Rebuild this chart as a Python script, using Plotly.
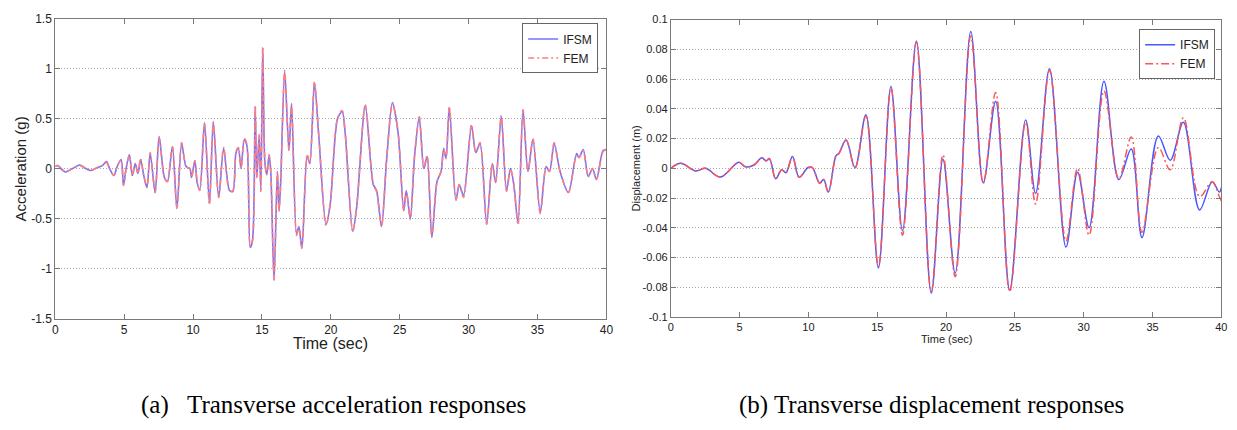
import plotly.graph_objects as go

# ---------------- data: acceleration (left) ----------------
acc_time = [0, 0.17, 0.72, 1.25, 1.78, 2.21, 2.57, 3.05, 3.41, 3.72, 3.94, 4.25, 4.49, 4.78, 4.95,
            5.14, 5.38, 5.59, 5.81, 6.0, 6.19, 6.41, 6.65, 6.89, 7.25, 7.54, 7.92, 8.14, 8.5, 8.83,
            9.17, 9.5, 9.77, 9.89, 10.13, 10.3, 10.49, 10.83, 11.19, 11.47, 11.86, 12.22, 12.65,
            12.89, 13.12, 13.29, 13.48, 13.72, 13.91, 14.15, 14.32, 14.51, 14.63, 14.8, 14.92,
            15.06, 15.21, 15.35, 15.52, 15.64, 15.88, 16.12, 16.24, 16.36, 16.65, 16.96, 17.15,
            17.51, 17.68, 17.9, 18.28, 18.47, 18.81, 19.12, 19.65, 19.96, 20.49, 20.82, 21.04,
            21.59, 21.88, 22.5, 23.08, 23.32, 23.68, 24.04, 24.47, 24.88, 25.29, 25.48, 25.77,
            26.08, 26.42, 26.75, 26.99, 27.33, 27.71, 28.0, 28.19, 28.36, 28.6, 29.08, 29.32,
            29.63, 30.21, 30.52, 30.83, 31.31, 31.72, 31.96, 32.37, 32.75, 33.04, 33.28, 33.59,
            33.95, 34.31, 34.67, 35.2, 35.63, 35.87, 36.21, 36.64, 37.24, 37.84, 38.01, 38.32,
            38.68, 38.99, 39.28, 39.76, 40.0]
acc_ifsm = [0.02, 0.03, -0.035, 0.0, 0.035, 0.0, -0.02, 0.01, 0.03, 0.07, 0.0, -0.07, 0.02, 0.09, -0.17,
            0.0, 0.14, -0.07, 0.05, -0.05, 0.09, -0.06, -0.19, 0.15, -0.24, 0.32, -0.09, -0.13, 0.22, -0.40,
            0.25, 0.02, 0.0, -0.09, 0.08, -0.14, -0.21, 0.46, -0.35, 0.47, -0.29, 0.20, -0.22,
            -0.23, 0.16, 0.20, 0.0, 0.29, 0.23, -0.79, -0.71, 0.62, -0.09, 0.33, -0.22,
            1.21, 0.07, -0.06, 0.13, -0.03, -1.12, -0.03, -0.42, -0.14, 0.97, 0.18, 0.65,
            -0.66, -0.58, -0.80, 0.13, 0.05, 0.86, 0.34, -0.56, -0.35, 0.50, 0.57, 0.36,
            -0.63, -0.38, 0.63, -0.16, -0.22, -0.58, 0.07, 0.66, 0.36, -0.42, -0.22, -0.50,
            0.13, 0.51, 0.0, 0.12, -0.69, -0.13, -0.03, 0.20, 0.10, 0.61, -0.32, -0.16,
            -0.27, 0.43, 0.16, 0.25, -0.55, 0.05, -0.14, 0.52, -0.22, 0.0, -0.16, -0.55,
            0.58, -0.03, 0.29, -0.44, 0.02, -0.03, 0.25, -0.03, -0.24, 0.15, 0.11, 0.19,
            -0.08, 0.0, -0.11, 0.18, 0.19]
acc_fem = [0.02, 0.03, -0.03, 0.0, 0.03, 0.0, -0.02, 0.01, 0.03, 0.06, 0.0, -0.07, 0.02, 0.08, -0.17,
           0.0, 0.13, -0.07, 0.05, -0.05, 0.10, -0.06, -0.19, 0.16, -0.24, 0.31, -0.09, -0.13, 0.23, -0.40,
           0.26, 0.02, 0.0, -0.09, 0.08, -0.14, -0.22, 0.45, -0.36, 0.46, -0.29, 0.21, -0.23,
           -0.22, 0.17, 0.21, 0.0, 0.30, 0.24, -0.78, -0.72, 0.63, -0.09, 0.34, -0.23,
           1.22, 0.07, -0.06, 0.14, -0.03, -1.11, -0.03, -0.43, -0.14, 0.98, 0.18, 0.64,
           -0.67, -0.58, -0.79, 0.14, 0.05, 0.87, 0.34, -0.57, -0.35, 0.51, 0.58, 0.36,
           -0.63, -0.38, 0.64, -0.16, -0.23, -0.58, 0.08, 0.65, 0.37, -0.42, -0.23, -0.51,
           0.13, 0.52, 0.0, 0.13, -0.68, -0.13, -0.03, 0.20, 0.10, 0.62, -0.31, -0.16,
           -0.29, 0.44, 0.16, 0.26, -0.56, 0.05, -0.14, 0.53, -0.23, 0.0, -0.16, -0.56,
           0.59, -0.03, 0.30, -0.45, 0.02, -0.03, 0.26, -0.03, -0.24, 0.14, 0.11, 0.18,
           -0.08, 0.0, -0.11, 0.17, 0.19]

# ---------------- data: displacement (right) ----------------
disp_time = [0, 0.72, 1.8, 2.52, 3.6, 4.93, 5.41, 6.01, 6.61, 6.92, 7.16, 7.62, 8.05, 8.36, 8.84,
             9.32, 9.97, 10.28, 10.81, 11.1, 11.44, 12.01, 12.2, 12.73, 13.38, 14.17, 15.08,
             15.99, 16.83, 17.84, 18.92, 19.77, 20.66, 21.79, 22.7, 23.6, 24.62, 25.78, 26.5,
             27.51, 28.71, 29.55, 30.39, 31.47, 32.55, 33.45, 34.23, 35.42, 36.28, 37.24, 38.42,
             39.33, 39.85, 40.0]
disp_ifsm = [0.0, 0.0033, -0.0018, 0.0, -0.0059, 0.004, 0.001, 0.002, 0.007, 0.005, 0.0065, -0.007,
             -0.001, -0.003, 0.008, -0.006, 0.0005, 0.0005, -0.010, -0.0076, -0.016, 0.0087, 0.0098,
             0.019, 0.0004, 0.036, -0.067, 0.055, -0.042, 0.0856, -0.084, 0.0060, -0.0705, 0.092,
             -0.0098, 0.045, -0.082, 0.0325, -0.017, 0.067, -0.053, -0.0026, -0.040, 0.0585,
             -0.0076, 0.013, -0.0466, 0.0217, 0.0054, 0.031, -0.028, -0.009, -0.016, -0.013]
disp_fem = [0.0, 0.0033, -0.0018, 0.0, -0.0059, 0.004, 0.001, 0.002, 0.007, 0.005, 0.0065, -0.007,
            -0.001, -0.003, 0.008, -0.006, 0.0005, 0.0005, -0.010, -0.0076, -0.016, 0.0087, 0.0098,
            0.019, 0.0, 0.035, -0.066, 0.054, -0.045, 0.085, -0.083, 0.009, -0.073, 0.089,
            -0.010, 0.051, -0.083, 0.031, -0.024, 0.066, -0.049, 0.0, -0.045, 0.052,
            -0.007, 0.021, -0.043, 0.014, -0.001, 0.034, -0.019, -0.009, -0.019, -0.022]

# ---------------- ticks / labels ----------------
x_ticks = [0, 5, 10, 15, 20, 25, 30, 35, 40]
acc_ticks = [-1.5, -1, -0.5, 0, 0.5, 1, 1.5]
acc_tick_text = ["-1.5", "-1", "-0.5", "0", "0.5", "1", "1.5"]
disp_ticks = [-0.1, -0.08, -0.06, -0.04, -0.02, 0, 0.02, 0.04, 0.06, 0.08, 0.1]
disp_tick_text = ["-0.1", "-0.08", "-0.06", "-0.04", "-0.02", "0", "0.02", "0.04", "0.06", "0.08", "0.1"]
series_names = ["IFSM", "FEM"]
captions = ["(a)\u00a0\u00a0 Transverse acceleration responses", "(b) Transverse displacement responses"]

W, H = 1237, 430
def px(x):
    return x / W
def py(y):
    return 1 - y / H

SANS = "Liberation Sans, Arial, sans-serif"
NARROW = "Liberation Sans Narrow, Arial Narrow, Liberation Sans, sans-serif"
SERIF = "Liberation Serif, Times New Roman, serif"

fig = go.Figure()

fig.add_trace(go.Scatter(x=acc_time, y=acc_ifsm, name=series_names[0], mode="lines",
                         line=dict(color="rgb(115,115,255)", width=1.6, shape="spline", smoothing=0.8),
                         xaxis="x", yaxis="y", legend="legend"))
fig.add_trace(go.Scatter(x=acc_time, y=acc_fem, name=series_names[1], mode="lines",
                         line=dict(color="rgb(255,125,125)", width=1.6, dash="6px,3px,2px,3px",
                                   shape="spline", smoothing=0.8),
                         xaxis="x", yaxis="y", legend="legend"))
fig.add_trace(go.Scatter(x=disp_time, y=disp_ifsm, name=series_names[0], mode="lines",
                         line=dict(color="rgb(70,90,255)", width=1.5, shape="spline", smoothing=1.0),
                         xaxis="x2", yaxis="y2", legend="legend2"))
fig.add_trace(go.Scatter(x=disp_time, y=disp_fem, name=series_names[1], mode="lines",
                         line=dict(color="rgb(255,85,85)", width=1.5, dash="8px,3px,2px,3px",
                                   shape="spline", smoothing=1.0),
                         xaxis="x2", yaxis="y2", legend="legend2"))

frame = "#7a7a7a"
grid = "#a8a8a8"
common_x = dict(range=[0, 40], tickvals=x_ticks, ticks="inside", ticklen=5, tickcolor=frame,
                showline=True, linecolor=frame, linewidth=1, mirror="ticks", showgrid=False,
                zeroline=False)
common_y = dict(ticks="inside", ticklen=5, tickcolor=frame, showline=True, linecolor=frame,
                linewidth=1, mirror="ticks", showgrid=True, gridcolor=grid, griddash="1px,2px",
                gridwidth=1, zeroline=False)

fig.update_layout(
    width=W, height=H, margin=dict(l=0, r=0, t=0, b=0),
    paper_bgcolor="white", plot_bgcolor="white",
    xaxis=dict(domain=[px(52.7), px(608.3)], anchor="y",
               tickfont=dict(family=SANS, size=12, color="#222"), **common_x),
    yaxis=dict(domain=[py(322), py(12)], anchor="x", range=[-1.5, 1.5],
               tickvals=acc_ticks, ticktext=acc_tick_text,
               tickfont=dict(family=SANS, size=12, color="#222"), **common_y),
    xaxis2=dict(domain=[px(673.3), px(1228.3)], anchor="y2",
                tickfont=dict(family=NARROW, size=11, color="#222"), **common_x),
    yaxis2=dict(domain=[py(320.4), py(13)], anchor="x2", range=[-0.1, 0.1],
                tickvals=disp_ticks, ticktext=disp_tick_text,
                tickfont=dict(family=NARROW, size=11, color="#222"), **common_y),
    legend=dict(x=px(600), y=py(17), xanchor="right", yanchor="top",
                bgcolor="white", bordercolor="#666", borderwidth=1,
                font=dict(family=SANS, size=12, color="#222"),
                itemwidth=30, tracegroupgap=0),
    legend2=dict(x=px(1222), y=py(23), xanchor="right", yanchor="top",
                 bgcolor="white", bordercolor="#666", borderwidth=1,
                 font=dict(family=NARROW, size=12, color="#222"),
                 itemwidth=30, tracegroupgap=0),
    showlegend=True,
)

def ann(text, x, y, size, family, angle=0, color="#222"):
    return dict(text=text, x=px(x), y=py(y), textangle=angle, showarrow=False,
                xanchor="center", yanchor="middle", xref="paper", yref="paper",
                font=dict(family=family, size=size, color=color))

annotations = [
    ann("Acceleration (g)", 18, 167, 15, SANS, angle=-90),
    ann("Time (sec)", 330, 348, 16, SANS),
    ann("Displacement (m)", 638, 167, 11, NARROW, angle=-90),
    ann("Time (sec)", 952, 343, 11, NARROW),
    ann(captions[0], 333, 411, 25, SERIF, color="#000"),
    ann(captions[1], 936, 411, 25, SERIF, color="#000"),
]
fig.update_layout(annotations=annotations)

fig.write_html("out.html")
